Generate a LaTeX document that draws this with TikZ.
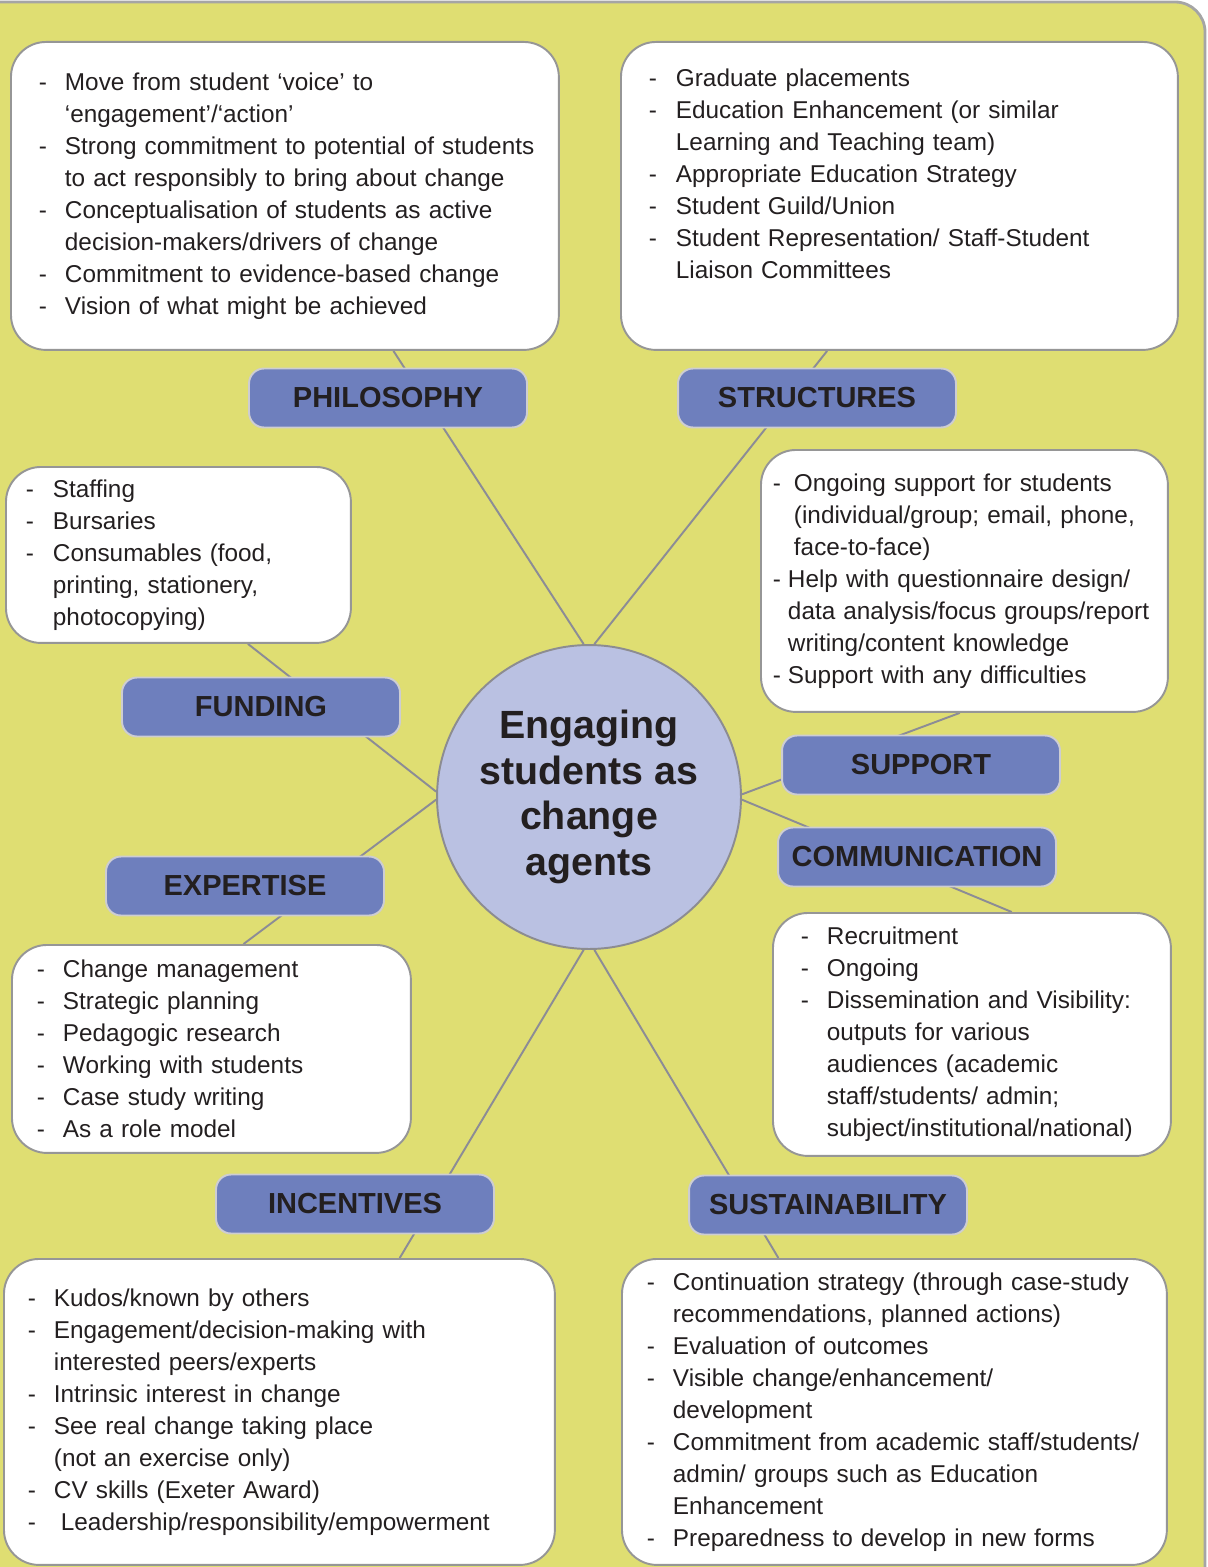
\documentclass[tikz,border=0pt]{standalone}
\usepackage{fontspec}
\setmainfont{Liberation Sans}
\usetikzlibrary{backgrounds}
\definecolor{bgyellow}{RGB}{223,222,114}
\definecolor{bggray}{RGB}{165,165,165}
\definecolor{boxgray}{RGB}{150,150,150}
\definecolor{tagblue}{RGB}{110,127,189}
\definecolor{taggray}{RGB}{205,205,210}
\definecolor{hubfill}{RGB}{186,193,226}
\definecolor{hubgray}{RGB}{140,140,145}
\definecolor{linkgray}{RGB}{140,140,150}
\definecolor{inkdark}{RGB}{35,31,32}
\newlength{\dashgap}
\setlength{\dashgap}{0.52cm}
\newcommand{\dashitem}[2][\dashgap]{\makebox[#1][l]{-}\mbox{#2}}
\newcommand{\contline}[2][\dashgap]{\hspace*{#1}\mbox{#2}}
\tikzset{
  infobox/.style={draw=boxgray, fill=white, line width=1.1pt, rounded corners=0.7cm,
    anchor=north west, align=left, inner ysep=0pt, text=inkdark,
    font=\fontsize{13.85}{18.2}\selectfont},
  tagbox/.style={draw=taggray, fill=tagblue, line width=1.1pt, rounded corners=0.3cm,
    minimum width=5.56cm, minimum height=1.18cm, text=inkdark,
    font=\bfseries\fontsize{16.5}{19}\selectfont},
  hubnode/.style={circle, draw=hubgray, fill=hubfill, line width=1.1pt,
    minimum size=6.08cm, inner sep=0pt, align=center, text=inkdark,
    font=\bfseries\fontsize{22.4}{25.9}\selectfont},
  link/.style={draw=linkgray, line width=1.1pt}
}
\begin{document}
\begin{tikzpicture}[x=0.02cm,y=-0.02cm]
  \useasboundingbox (0,0) rectangle (1207,1567);
  \node[hubnode] (hub) at (589,797) {Engaging\\students as\\change\\agents}; % centre
  % text boxes
  \node[infobox, text width=9.84cm, inner xsep=0.56cm, minimum height=6.16cm] (philbox) at (10,41) {%
    \dashitem{Move from student ‘voice’ to}\\
    \contline{‘engagement’/‘action’}\\
    \dashitem{Strong commitment to potential of students}\\
    \contline{to act responsibly to bring about change}\\
    \dashitem{Conceptualisation of students as active}\\
    \contline{decision-makers/drivers of change}\\
    \dashitem{Commitment to evidence-based change}\\
    \dashitem{Vision of what might be achieved}};
  \node[infobox, text width=10.02cm, inner xsep=0.56cm, minimum height=6.16cm] (structbox) at (620,41) {%
    \dashitem[0.54cm]{Graduate placements}\\
    \dashitem[0.54cm]{Education Enhancement (or similar}\\
    \contline[0.54cm]{Learning and Teaching team)}\\
    \dashitem[0.54cm]{Appropriate Education Strategy}\\
    \dashitem[0.54cm]{Student Guild/Union}\\
    \dashitem[0.54cm]{Student Representation/ Staff-Student}\\
    \contline[0.54cm]{Liaison Committees}\\[0.25cm]\mbox{}};
  \node[infobox, text width=6.1cm, inner xsep=0.4cm, minimum height=3.52cm] (fundbox) at (5,466) {%
    \dashitem[0.54cm]{Staffing}\\
    \dashitem[0.54cm]{Bursaries}\\
    \dashitem[0.54cm]{Consumables (food,}\\
    \contline[0.54cm]{printing, stationery,}\\
    \contline[0.54cm]{photocopying)}};
  \node[infobox, text width=7.66cm, inner xsep=0.24cm, minimum height=5.24cm] (suppbox) at (760,449) {%
    \dashitem[0.42cm]{Ongoing support for students}\\
    \contline[0.42cm]{(individual/group; email, phone,}\\
    \contline[0.42cm]{face-to-face)}\\
    \dashitem[0.3cm]{Help with questionnaire design/}\\
    \contline[0.3cm]{data analysis/focus groups/report}\\
    \contline[0.3cm]{writing/content knowledge}\\
    \dashitem[0.3cm]{Support with any difficulties}};
  \node[infobox, text width=6.98cm, inner xsep=0.5cm, minimum height=4.16cm] (expbox) at (11,944) {%
    \dashitem{Change management}\\
    \dashitem{Strategic planning}\\
    \dashitem{Pedagogic research}\\
    \dashitem{Working with students}\\
    \dashitem{Case study writing}\\
    \dashitem{As a role model}};
  \node[infobox, text width=6.84cm, inner xsep=0.56cm, minimum height=4.86cm] (commbox) at (772,912) {%
    \dashitem{Recruitment}\\
    \dashitem{Ongoing}\\
    \dashitem{Dissemination and Visibility:}\\
    \contline{outputs for various}\\
    \contline{audiences (academic}\\
    \contline{staff/students/ admin;}\\
    \contline{subject/institutional/national)}};
  \node[infobox, text width=10.06cm, inner xsep=0.48cm, minimum height=6.12cm] (incbox) at (3,1258) {%
    \dashitem{Kudos/known by others}\\
    \dashitem{Engagement/decision-making with}\\
    \contline{interested peers/experts}\\
    \dashitem{Intrinsic interest in change}\\
    \dashitem{See real change taking place}\\
    \contline{(not an exercise only)}\\
    \dashitem{CV skills (Exeter Award)}\\
    \dashitem[0.66cm]{Leadership/responsibility/empowerment}};
  \node[infobox, text width=9.9cm, inner xsep=0.5cm, minimum height=6.12cm] (sustbox) at (621,1258) {%
    \dashitem{Continuation strategy (through case-study}\\
    \contline{recommendations, planned actions)}\\
    \dashitem{Evaluation of outcomes}\\
    \dashitem{Visible change/enhancement/}\\
    \contline{development}\\
    \dashitem{Commitment from academic staff/students/}\\
    \contline{admin/ groups such as Education}\\
    \contline{Enhancement}\\
    \dashitem{Preparedness to develop in new forms}};
  % labels
  \node[tagbox] (philtag) at (388,398) {PHILOSOPHY};
  \node[tagbox] (structtag) at (817,398) {STRUCTURES};
  \node[tagbox] (fundtag) at (261,707) {FUNDING};
  \node[tagbox] (supptag) at (921,765) {SUPPORT};
  \node[tagbox] (commtag) at (917,857) {COMMUNICATION};
  \node[tagbox] (exptag) at (245,886) {EXPERTISE};
  \node[tagbox] (inctag) at (355,1204) {INCENTIVES};
  \node[tagbox] (susttag) at (828,1205) {SUSTAINABILITY};
  \begin{scope}[on background layer]
    \draw[draw=bggray, fill=bgyellow, line width=1.6pt, rounded corners=0.6cm] (-40,2) rectangle (1205,1640); % backdrop
    \draw[link] (hub.92) -- (philbox.-55); % Philosophy
    \draw[link] (hub.88) -- (structbox.-115); % Structures
    \draw[link] (hub.178) -- (fundbox.-52); % Funding
    \draw[link] (hub.181) -- (expbox.73); % Expertise
    \draw[link] (hub.1) -- (suppbox.-92); % Support
    \draw[link] (hub.-1) -- (commbox.72); % Communication
    \draw[link] (hub.268) -- (incbox.52); % Incentives
    \draw[link] (hub.272) -- (sustbox.127); % Sustainability
  \end{scope}
\end{tikzpicture}
\end{document}
